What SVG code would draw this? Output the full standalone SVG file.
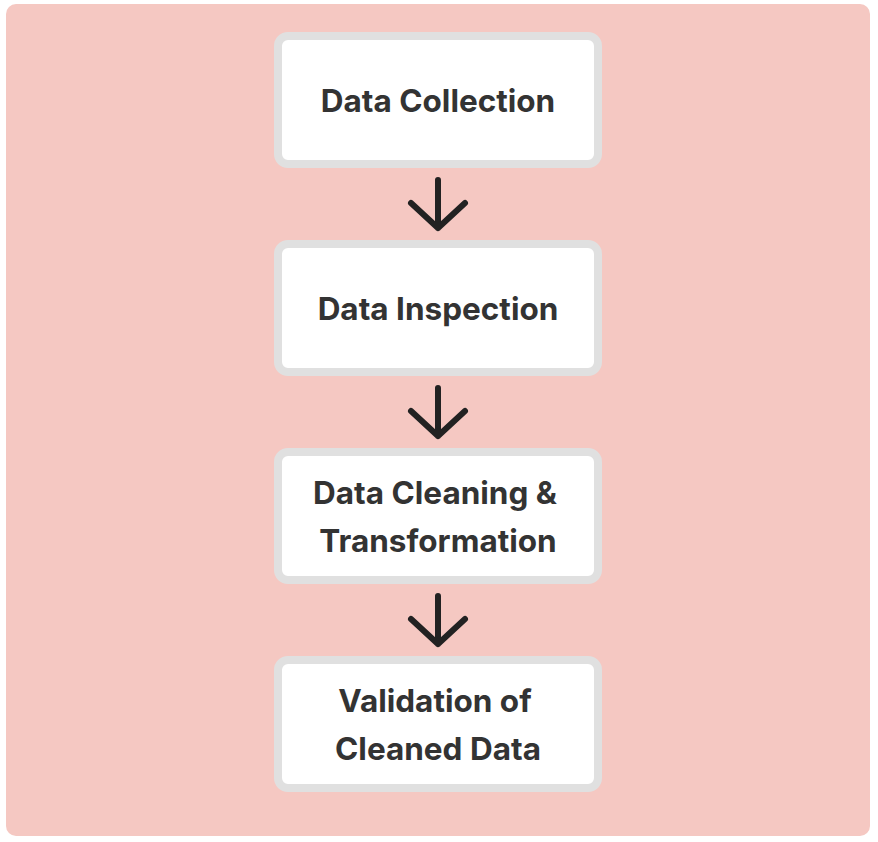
<svg xmlns="http://www.w3.org/2000/svg" width="878" height="842" viewBox="0 0 878 842">
<style>
.box{fill:#fff;stroke:#e0e0e0;stroke-width:8}
.lbl{font-family:Inter,"Liberation Sans",sans-serif;font-weight:700;font-size:31.5px;fill:#333;text-anchor:middle}
.arr{fill:none;stroke:#222;stroke-width:6;stroke-linecap:round;stroke-linejoin:round}
</style>
<rect x="6" y="4" width="864" height="832" rx="10" fill="#f5c8c2"/>
<g id="n1"><rect class="box" x="278" y="36" width="320" height="128" rx="10"/><text class="lbl" x="438" y="112">Data Collection</text></g>
<g id="n2"><rect class="box" x="278" y="244" width="320" height="128" rx="10"/><text class="lbl" x="438" y="320">Data Inspection</text></g>
<g id="n3"><rect class="box" x="278" y="452" width="320" height="128" rx="10"/><text class="lbl" x="435" y="504">Data Cleaning &amp;</text><text class="lbl" x="438" y="552">Transformation</text></g>
<g id="n4"><rect class="box" x="278" y="660" width="320" height="128" rx="10"/><text class="lbl" x="435" y="712">Validation of</text><text class="lbl" x="438" y="760">Cleaned Data</text></g>
<g id="edges">
<path class="arr" d="M438 180V228M411 203L438 228L465 203"/>
<path class="arr" d="M438 388V436M411 411L438 436L465 411"/>
<path class="arr" d="M438 596V644M411 619L438 644L465 619"/>
</g>
</svg>
